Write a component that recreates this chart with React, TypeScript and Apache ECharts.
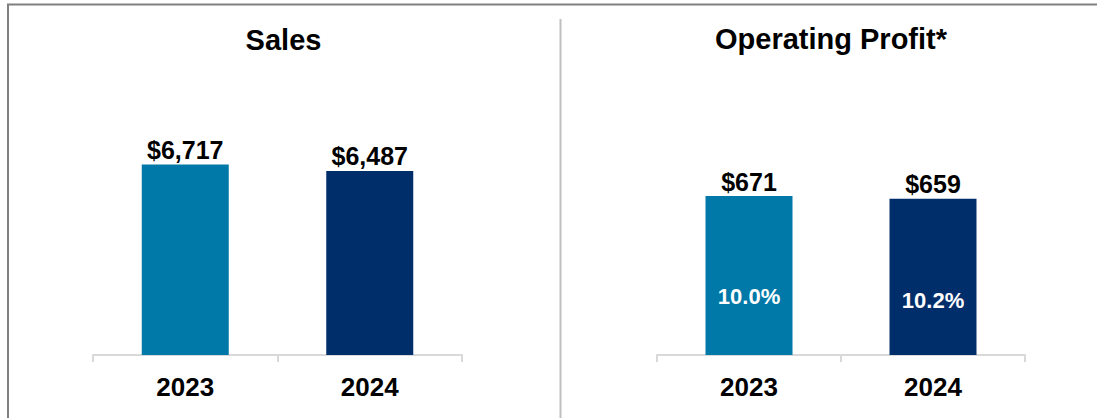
import React, { useEffect, useRef } from "react";
import * as echarts from "echarts";

const years = ["2023", "2024"];
const sales = [6717, 6487];
const opProfit = [671, 659];
const margins = ["10.0%", "10.2%"];
const barColors = ["#0079A8", "#002E6B"];
const titles = ["Sales", "Operating Profit*"];

const FONT = "'Liberation Sans', Arial, sans-serif";

export default function App() {
  const ref = useRef<HTMLDivElement>(null);
  useEffect(() => {
    document.body.style.margin = "0";
    const chart = echarts.init(ref.current!, null, { renderer: "svg" });
    const fmt = (v: number) => "$" + v.toLocaleString("en-US");
    const mkData = (vals: number[]) =>
      vals.map((v, i) => ({ value: v, itemStyle: { color: barColors[i] } }));
    const xAxisBase = (gridIndex: number) => ({
      type: "category",
      gridIndex,
      data: years,
      axisLine: { lineStyle: { color: "#d9d9d9", width: 2 } },
      axisTick: { show: true, length: 7, lineStyle: { color: "#d9d9d9", width: 2 } },
      axisLabel: {
        color: "#000",
        fontSize: 26,
        fontWeight: "bold",
        fontFamily: FONT,
        margin: 19,
      },
    });
    const yAxisBase = (gridIndex: number, max: number) => ({
      type: "value",
      gridIndex,
      min: 0,
      max,
      show: false,
      splitLine: { show: false },
    });
    const topLabel = {
      show: true,
      position: "top",
      distance: 2,
      color: "#000",
      fontSize: 25,
      fontWeight: "bold",
      fontFamily: FONT,
      formatter: (p: any) => fmt(p.value),
    };
    const pctOffsets = [21, 24];
    chart.setOption({
      animation: false,
      grid: [
        { left: 93, width: 369, top: 128, height: 227 },
        { left: 657, width: 368, top: 128, height: 227 },
      ],
      xAxis: [xAxisBase(0), xAxisBase(1)],
      yAxis: [yAxisBase(0, 8000), yAxisBase(1, 958)],
      series: [
        {
          type: "bar",
          xAxisIndex: 0,
          yAxisIndex: 0,
          barWidth: 87,
          data: mkData(sales),
          label: topLabel,
        },
        {
          type: "bar",
          xAxisIndex: 1,
          yAxisIndex: 1,
          barWidth: 87,
          barGap: "-100%",
          data: mkData(opProfit),
          label: topLabel,
        },
        {
          type: "bar",
          xAxisIndex: 1,
          yAxisIndex: 1,
          barWidth: 87,
          barGap: "-100%",
          silent: true,
          data: opProfit.map((v, i) => ({
            value: v,
            itemStyle: { color: "rgba(0,0,0,0)" },
            label: { offset: [0, pctOffsets[i]] },
          })),
          label: {
            show: true,
            position: "inside",
            color: "#fff",
            fontSize: 22,
            fontWeight: "bold",
            fontFamily: FONT,
            formatter: (p: any) => margins[p.dataIndex],
          },
        },
      ],
      graphic: [
        {
          type: "rect",
          shape: { x: 8, y: 4.5, width: 1200, height: 600 },
          style: { fill: "none", stroke: "#808080", lineWidth: 2 },
          silent: true,
        },
        {
          type: "line",
          shape: { x1: 560.5, y1: 19, x2: 560.5, y2: 430 },
          style: { stroke: "#bfbfbf", lineWidth: 2 },
          silent: true,
        },
        {
          type: "text",
          x: 283.5,
          y: 40,
          style: {
            text: titles[0],
            fill: "#000",
            font: `bold 29px ${FONT}`,
            textAlign: "center",
            textVerticalAlign: "middle",
          },
        },
        {
          type: "text",
          x: 831,
          y: 39,
          style: {
            text: titles[1],
            fill: "#000",
            font: `bold 29px ${FONT}`,
            textAlign: "center",
            textVerticalAlign: "middle",
          },
        },
      ],
    });
    return () => chart.dispose();
  }, []);
  return <div ref={ref} style={{ width: 1097, height: 418 }} />;
}
